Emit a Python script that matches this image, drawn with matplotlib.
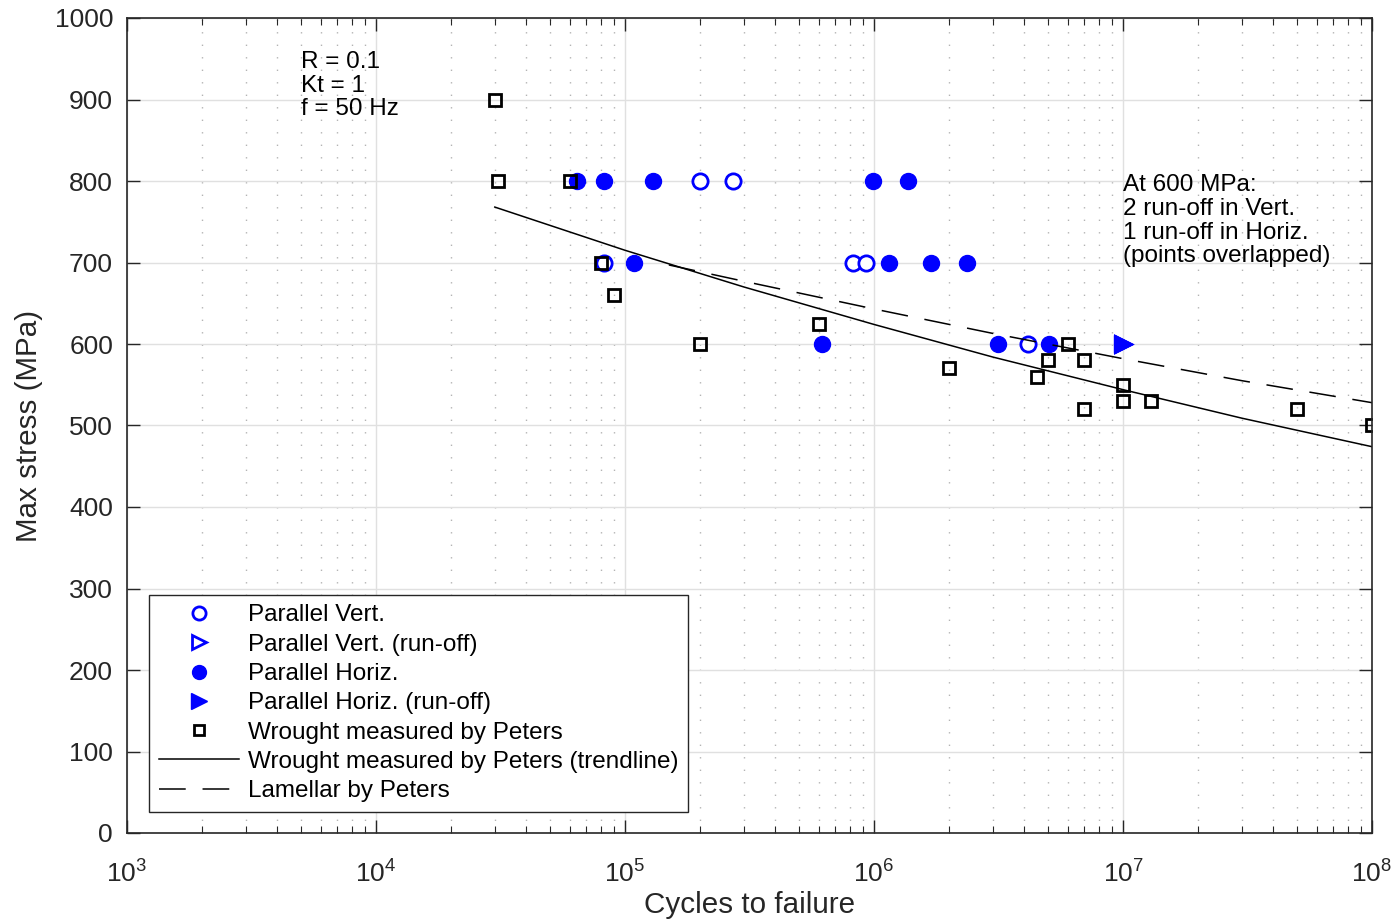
import matplotlib
matplotlib.use("Agg")
import matplotlib.pyplot as plt
from matplotlib.ticker import LogLocator, FixedLocator, NullFormatter

plt.rcParams['font.family'] = ['Liberation Sans', 'DejaVu Sans']
plt.rcParams['mathtext.fontset'] = 'custom'
plt.rcParams['mathtext.rm'] = 'Liberation Sans'
plt.rcParams['mathtext.it'] = 'Liberation Sans'

# ---- data ----
vert_N = [8.2e4, 2.0e5, 2.72e5, 8.2e5, 9.3e5, 4.15e6]
vert_S = [700, 800, 800, 700, 700, 600]

vert_runoff_N = [1.0e7, 1.0e7]
vert_runoff_S = [600, 600]

horiz_N = [6.4e4, 8.2e4, 1.29e5, 1.09e5, 6.2e5, 9.9e5, 1.37e6, 1.15e6, 1.69e6, 2.36e6, 3.15e6, 5.05e6]
horiz_S = [800, 800, 800, 700, 600, 800, 800, 700, 700, 700, 600, 600]

horiz_runoff_N = [1.0e7]
horiz_runoff_S = [600]

wrought_N = [3.0e4, 3.1e4, 6.0e4, 8.0e4, 9.0e4, 2.0e5, 6.0e5, 2.0e6, 4.5e6, 5.0e6,
             6.0e6, 7.0e6, 7.0e6, 1.0e7, 1.0e7, 1.3e7, 5.0e7, 1.0e8]
wrought_S = [900, 800, 800, 700, 660, 600, 625, 570, 560, 580,
             600, 580, 520, 550, 530, 530, 520, 500]

# trendline points
trend_N = [3.0e4, 1.0e5, 3.0e5, 1.0e6, 3.0e6, 1.0e7, 3.0e7, 1.0e8]
trend_S = [768, 715, 670, 624, 584, 544, 509, 474]

lamellar_N = [1.5e5, 3.0e5, 1.0e6, 3.0e6, 1.0e7, 3.0e7, 1.0e8]
lamellar_S = [697, 677, 643, 613, 582, 555, 528]

x_ticks = [1e3, 1e4, 1e5, 1e6, 1e7, 1e8]
y_ticks = list(range(0, 1001, 100))

# ---- figure ----
fig = plt.figure(figsize=(13.97, 9.21), dpi=100)
ax = fig.add_axes([127/1397, 1-833/921, (1372-127)/1397, (833-18)/921])

blue = (0, 0, 1)
ax.plot(vert_N, vert_S, 'o', ls='none', mfc='white', mec=blue, mew=2, ms=11,
        label='Parallel Vert.')
ax.plot(vert_runoff_N, vert_runoff_S, '>', ls='none', mfc='white', mec=blue, mew=2, ms=12,
        label='Parallel Vert. (run-off)')
ax.plot(horiz_N, horiz_S, 'o', ls='none', mfc=blue, mec=blue, mew=1, ms=11.5,
        label='Parallel Horiz.')
ax.plot(horiz_runoff_N, horiz_runoff_S, '>', ls='none', mfc=blue, mec=blue, mew=1, ms=13,
        label='Parallel Horiz. (run-off)')
ax.plot(wrought_N, wrought_S, 's', ls='none', mfc='none', mec='black', mew=2, ms=8,
        label='Wrought measured by Peters')
ax.plot(trend_N, trend_S, '-', color='black', lw=1.1,
        label='Wrought measured by Peters (trendline)')
ln, = ax.plot(lamellar_N, lamellar_S, color='black', lw=1.1,
              label='Lamellar by Peters')
ln.set_dashes((17.5, 11))

ax.set_xscale('log')
ax.set_xlim(1e3, 1e8)
ax.set_ylim(0, 1000)
ax.xaxis.set_major_locator(FixedLocator(x_ticks))
ax.xaxis.set_minor_locator(LogLocator(base=10, subs=range(2, 10), numticks=20))
ax.xaxis.set_minor_formatter(NullFormatter())
ax.set_yticks(y_ticks)

axcol = '#262626'
ax.grid(True, which='major', color='#e0e0e0', lw=1, ls='-')
ax.grid(True, which='minor', axis='x', color='#b4b4b4', lw=1, ls=(0, (1, 8)))
ax.set_axisbelow(True)
for s in ax.spines.values():
    s.set_color(axcol)
    s.set_linewidth(1.2)
ax.tick_params(which='both', direction='in', top=True, right=True, colors=axcol)
ax.tick_params(which='major', length=9.5, width=1, labelsize=19, pad=10)
ax.tick_params(which='minor', length=5, width=0.8)
ax.tick_params(axis='x', which='major', pad=20)

ax.set_xlabel('Cycles to failure', fontsize=21.3, color=axcol, labelpad=2)
ax.set_ylabel('Max stress (MPa)', fontsize=21.3, color=axcol, labelpad=8)

ax.text(5e3, 959, 'R = 0.1\nKt = 1\nf = 50 Hz', fontsize=17.5, va='top', ha='left',
        linespacing=1.08)
ax.text(1e7, 808, 'At 600 MPa:\n2 run-off in Vert.\n1 run-off in Horiz.\n(points overlapped)',
        fontsize=17.5, va='top', ha='left', linespacing=1.09)

leg = ax.legend(loc='lower left', bbox_to_anchor=((149-127)/1245, (833-812)/815),
                borderaxespad=0, fontsize=17.5, frameon=True, fancybox=False,
                handlelength=3.3, handletextpad=0.37, labelspacing=0.3,
                borderpad=0.4)
leg.get_frame().set_edgecolor(axcol)
leg.get_frame().set_linewidth(1)
leg.get_frame().set_alpha(1)
for h, ms in zip(leg.legend_handles, [9.5, 10.5, 10, 11.5, 7.5, None, None]):
    if ms is not None:
        h.set_markersize(ms)

fig.savefig('out.png', dpi=100)
